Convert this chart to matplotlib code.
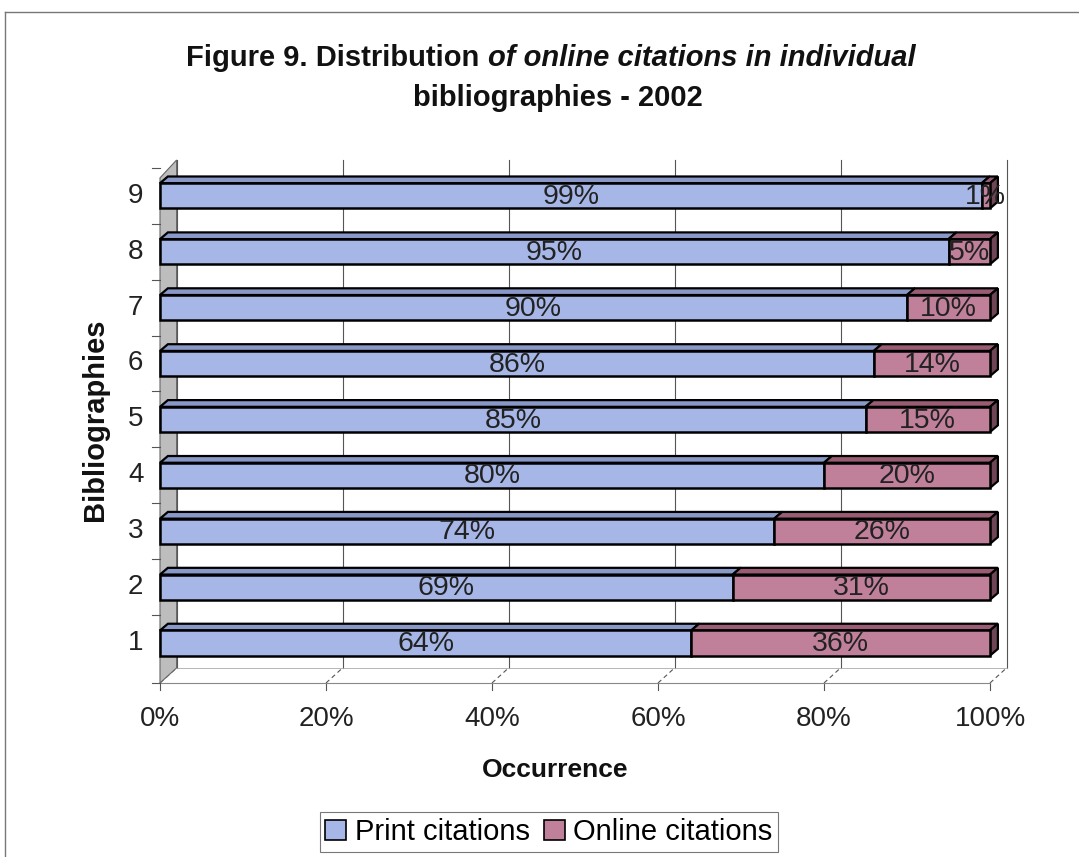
import numpy as np
import matplotlib.pyplot as plt
from matplotlib.patches import Polygon, Rectangle
from matplotlib.lines import Line2D

plt.rcParams['font.family'] = ['Liberation Sans', 'DejaVu Sans']

bibliographies = ['1', '2', '3', '4', '5', '6', '7', '8', '9']
print_pct = [64, 69, 74, 80, 85, 86, 90, 95, 99]
online_pct = [36, 31, 26, 20, 15, 14, 10, 5, 1]
xticks = [0, 20, 40, 60, 80, 100]

c_print = '#a6b6e6'
c_print_top = '#8a98c8'
c_online = '#c0809a'
c_online_top = '#9a5c74'
c_online_side = '#6e4656'

W, H = 1079, 857
fig = plt.figure(figsize=(W / 100, H / 100), dpi=100)
ax = fig.add_axes([160 / W, 1 - 683 / H, 830 / W, 523 / H])
ax.set_xlim(0, 100)
ax.set_ylim(0.285, 9.64)
ax.axis('off')

y = np.arange(1, len(bibliographies) + 1)
h = 0.45
bdx, bdy = 0.95, 0.12     # bar depth
wdx, wdy = 2.0, -0.27     # back wall offset
ybot = 0.285
ytop = 9.64

# back wall gridlines, floor dashes
for t in xticks:
    ax.plot([t + wdx, t + wdx], [ybot - wdy, ytop], color='#555555', lw=0.8, clip_on=False, zorder=1)
    ax.plot([t, t + wdx], [ybot, ybot - wdy], color='#555555', lw=0.8, ls=(0, (4, 3)), clip_on=False, zorder=1)
    ax.plot([t, t], [ybot, ybot - 0.12], color='#555555', lw=0.8, clip_on=False)
# left side wall
ax.add_patch(Polygon([(0, ybot), (wdx, ybot - wdy), (wdx, ytop), (0, ytop + wdy - 0.05)],
                     closed=True, fc='#bdbdbd', ec='#666666', lw=0.8, clip_on=False, zorder=1))
ax.plot([0, 100], [ybot, ybot], color='#888888', lw=0.8, clip_on=False)
ax.plot([wdx, 100 + wdx], [ybot - wdy, ybot - wdy], color='#aaaaaa', lw=0.6, clip_on=False, zorder=1)
for b in list(np.arange(1.5, 9.5, 1.0)) + [ybot, 9.5]:
    ax.plot([-1.0, 0], [b, b], color='#555555', lw=0.8, clip_on=False)

def bar3d(x0, x1, yc, fc, tc, sc=None):
    y0, y1 = yc - h / 2, yc + h / 2
    ax.add_patch(Polygon([(x0, y1), (x0 + bdx, y1 + bdy), (x1 + bdx, y1 + bdy), (x1, y1)],
                         closed=True, fc=tc, ec='black', lw=1.6, clip_on=False, zorder=3))
    ax.add_patch(Rectangle((x0, y0), x1 - x0, h, fc=fc, ec='black', lw=1.8, clip_on=False, zorder=4))
    if sc is not None:
        ax.add_patch(Polygon([(x1, y0), (x1 + bdx, y0 + bdy), (x1 + bdx, y1 + bdy), (x1, y1)],
                             closed=True, fc=sc, ec='black', lw=1.6, clip_on=False, zorder=3))

for yi, p, o in zip(y, print_pct, online_pct):
    bar3d(0, p, yi, c_print, c_print_top)
    bar3d(p, p + o, yi, c_online, c_online_top, c_online_side)
    ax.text(p / 2, yi - 0.02, f'{p}%', ha='center', va='center', fontsize=20.5, color='#222222', zorder=5)
    ax.text(p + o / 2, yi - 0.02, f'{o}%', ha='center', va='center', fontsize=20.5, color='#222222', zorder=5)

for yi, lab in zip(y, bibliographies):
    ax.text(-2.0, yi, lab, ha='right', va='center', fontsize=20, color='#222222')
for t in xticks:
    ax.text(t, ybot - 0.42, f'{t}%', ha='center', va='top', fontsize=20, color='#222222')

ax.text(-7.8, 5.0, 'Bibliographies', rotation=90, ha='center', va='center',
        fontsize=21, fontweight='bold', color='#111111')
fig.text(555 / W, 1 - 770 / H, 'Occurrence', ha='center', va='center',
         fontsize=19, fontweight='bold', color='#111111')

# title (mixed upright / italic first line)
tfs = 21
t1 = fig.text(0, 1 - 58 / H, 'Figure 9. Distribution ', ha='left', va='center',
              fontsize=tfs, fontweight='bold', color='#111111')
t2 = fig.text(0, 1 - 58 / H, 'of online citations in individual', ha='left', va='center',
              fontsize=tfs, fontweight='bold', style='italic', color='#111111')
fig.canvas.draw()
r = fig.canvas.get_renderer()
w1 = t1.get_window_extent(r).width
w2 = t2.get_window_extent(r).width
x0 = 551 - (w1 + w2) / 2
t1.set_x(x0 / W)
t2.set_x((x0 + w1) / W)
fig.text(558 / W, 1 - 98 / H, 'bibliographies - 2002', ha='center', va='center',
         fontsize=tfs, fontweight='bold', color='#111111')

# legend
handles = [Rectangle((0, 0), 1, 1, fc=c_print, ec='black', lw=1.2),
           Rectangle((0, 0), 1, 1, fc=c_online, ec='black', lw=1.2)]
leg = fig.legend(handles, ['Print citations', 'Online citations'], loc='center',
                 bbox_to_anchor=(549 / W, 1 - 832 / H), ncol=2, fontsize=21,
                 frameon=True, fancybox=False, edgecolor='#555555', handlelength=0.7,
                 handleheight=0.7, handletextpad=0.3, columnspacing=0.5, borderpad=0.2,
                 borderaxespad=0)
leg.get_frame().set_linewidth(0.8)

# outer chart frame
fig.add_artist(Line2D([5 / W, 5 / W], [0, 1 - 12 / H], color='#777777', lw=1))
fig.add_artist(Line2D([5 / W, 1], [1 - 12 / H, 1 - 12 / H], color='#777777', lw=1))

fig.savefig('out.png', dpi=100)
